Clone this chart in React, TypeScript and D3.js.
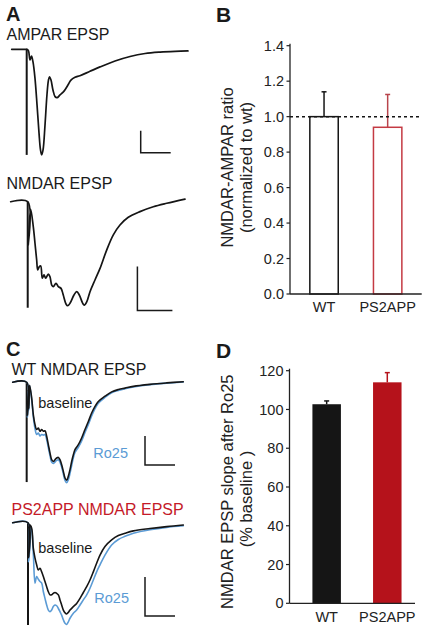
import React from 'react';
import * as d3 from 'd3';

const FONT = '"Liberation Sans", Arial, Helvetica, sans-serif';
const BLUE = '#5b9bd5';
const RED = '#b5121b';
const RED_TEXT = '#c41a28';
const RED_OUTLINE = '#c43a43';
const INK = '#151515';

// ---------- Panel A: AMPAR EPSP (ms, mV) ----------
const ampT = [0, 9.2, 10.2, 11.2, 12.2, 13.2, 14.2, 15.5, 16.9, 18.2, 19.2, 20.0, 20.9, 22.2, 23.5, 24.5, 25.2, 26.2, 27.5, 28.9, 30.2, 32.2, 34.9, 37.5, 39.5, 42.2, 45.5, 52.2, 58.9, 68.9, 78.9, 88.9, 98.9, 108.9, 117.5];
const ampV = [0, 0, 0, -0.15, -0.97, -0.61, -1.15, -2.6, -5.07, -7.6, -9.15, -9.6, -9.15, -6.9, -4.15, -2.8, -2.5, -2.8, -3.7, -4.3, -4.4, -4.15, -3.8, -3.25, -2.8, -2.55, -2.4, -2.0, -1.6, -1.06, -0.65, -0.38, -0.25, -0.18, -0.15];
const ampArtifact = { t: 10, v: -9.6 };

// ---------- Panel A: NMDAR EPSP ----------
const nmdaT = [0, 24.3, 25.1, 26.9, 28.6, 32.3, 34.7, 37.1, 38.6, 40.9, 42.9, 45.1, 47.6, 50.0, 53.7, 56.1, 58.6, 60.9, 64.7, 68.0, 71.9, 75.1, 79.0, 81.4, 84.7, 90.4, 94.3, 98.0, 102.9, 105.1, 108.6, 113.3, 120.4, 127.6, 137.1, 146.6, 156.1, 168.0, 184.7, 203.7, 222.9, 249.0];
const nmdaV = [0, 0, -1.97, -0.83, -0.35, -1.14, -1.89, -2.65, -3.1, -2.95, -2.92, -3.48, -3.33, -3.48, -3.29, -3.41, -3.79, -3.86, -3.71, -3.86, -3.94, -4.24, -4.65, -4.73, -4.62, -4.24, -4.09, -4.24, -4.62, -4.7, -4.55, -4.09, -3.56, -3.03, -2.2, -1.51, -1.06, -0.71, -0.45, -0.23, -0.07, 0.12];
const nmdaArtifact = { t: 24.3, v: -4.82 };

// ---------- Panel C: WT NMDAR EPSP ----------
const wtT = [0, 23.3, 24.5, 25.8, 27.0, 28.3, 31.6, 34.4, 37.2, 39.9, 42.7, 45.5, 48.3, 51.1, 53.8, 56.6, 59.4, 62.2, 64.9, 67.7, 70.5, 73.3, 76.1, 78.8, 81.6, 84.4, 87.2, 89.9, 92.7, 95.5, 98.3, 101.1, 103.8, 109.4, 114.9, 120.5, 126.1, 131.6, 137.2, 142.7, 153.8, 164.9, 176.1, 187.2, 201.1, 228.8, 256.7, 284.3];
const wtBaseV = [0, 0, -1.15, -0.25, -0.9, -0.1, -0.54, -1.12, -1.46, -1.63, -1.58, -1.69, -1.63, -1.69, -1.67, -1.86, -2.15, -2.44, -2.67, -2.73, -2.67, -2.61, -2.59, -2.67, -2.84, -3.07, -3.30, -3.38, -3.24, -3.01, -2.73, -2.50, -2.32, -2.15, -1.92, -1.63, -1.35, -1.06, -0.83, -0.66, -0.48, -0.33, -0.25, -0.20, -0.14, -0.07, -0.02, 0.02];
const wtRoV = [0, 0, -1.2, -0.3, -0.95, -0.12, -0.6, -1.2, -1.6, -1.8, -1.75, -1.85, -1.8, -1.82, -1.8, -1.97, -2.25, -2.53, -2.75, -2.8, -2.75, -2.69, -2.67, -2.75, -2.92, -3.16, -3.38, -3.46, -3.36, -3.14, -2.87, -2.60, -2.42, -2.24, -2.02, -1.73, -1.45, -1.16, -0.91, -0.72, -0.52, -0.36, -0.28, -0.22, -0.16, -0.08, -0.03, 0.01];
const wtArtifact = { t: 23.3, v: -3.44 };

// ---------- Panel C: PS2APP NMDAR EPSP ----------
const psT = [0, 25.5, 26.5, 27.7, 28.8, 31.6, 34.4, 37.2, 39.9, 42.7, 45.5, 48.3, 51.1, 53.8, 56.6, 59.4, 62.2, 64.9, 67.7, 70.5, 73.3, 76.1, 78.8, 81.6, 84.4, 87.2, 89.9, 92.7, 95.5, 101.1, 106.6, 112.2, 117.7, 123.3, 128.8, 134.4, 139.9, 145.5, 153.8, 164.9, 176.1, 187.2, 201.1, 228.8, 256.6, 284.4];
const psBaseV = [0, 0, -0.9, -0.3, -0.06, -0.14, -0.66, -0.91, -1.08, -1.21, -1.17, -1.26, -1.38, -1.51, -1.64, -1.77, -1.85, -1.85, -1.81, -1.79, -1.81, -1.85, -1.98, -2.11, -2.24, -2.31, -2.34, -2.30, -2.24, -2.15, -2.07, -1.94, -1.79, -1.64, -1.47, -1.26, -1.04, -0.83, -0.61, -0.44, -0.33, -0.27, -0.21, -0.15, -0.10, -0.06];
const psRoV = [0, 0, -1.0, -0.35, -0.08, -0.2, -0.8, -1.55, -1.38, -1.45, -1.51, -1.55, -1.77, -1.94, -2.11, -2.24, -2.28, -2.24, -2.15, -2.11, -2.13, -2.20, -2.28, -2.37, -2.49, -2.58, -2.61, -2.54, -2.45, -2.32, -2.24, -2.11, -1.98, -1.85, -1.68, -1.47, -1.26, -1.08, -0.83, -0.57, -0.43, -0.35, -0.27, -0.18, -0.12, -0.08];
const psArtifact = { t: 25.5, v: -2.62 };

// ---------- Panel B ----------
const groups = ['WT', 'PS2APP'];
const ratioMeans = [1.0, 0.94];
const ratioErrs = [0.14, 0.185];
const ratioTicks = [0, 0.2, 0.4, 0.6, 0.8, 1.0, 1.2, 1.4];

// ---------- Panel D ----------
const slopeMeans = [102.7, 114.0];
const slopeErrs = [1.7, 5.0];
const slopeTicks = [0, 20, 40, 60, 80, 100, 120];

type Scale = d3.ScaleLinear<number, number>;

function Trace({ t, v, xs, ys, color, width = 1.6 }: { t: number[]; v: number[]; xs: Scale; ys: Scale; color: string; width?: number }) {
  const pts = d3.zip(t, v) as [number, number][];
  const line = d3
    .line<[number, number]>()
    .x((d) => xs(d[0]))
    .y((d) => ys(d[1]))
    .curve(d3.curveCatmullRom.alpha(0.5));
  return <path d={line(pts) || ''} fill="none" stroke={color} strokeWidth={width} strokeLinejoin="round" strokeLinecap="round" />;
}

function Artifact({ a, xs, ys }: { a: { t: number; v: number }; xs: Scale; ys: Scale }) {
  return <line x1={xs(a.t)} x2={xs(a.t)} y1={ys(0)} y2={ys(a.v)} stroke={INK} strokeWidth={2} />;
}

function ScaleBar({ t, v, dt, dv, xs, ys }: { t: number; v: number; dt: number; dv: number; xs: Scale; ys: Scale }) {
  const d = `M${xs(t)},${ys(v + dv)}L${xs(t)},${ys(v)}L${xs(t + dt)},${ys(v)}`;
  return <path d={d} fill="none" stroke="#1a1a1a" strokeWidth={1.5} />;
}

function BarChart({
  ys, ticks, fmt, means, errs, x0, x1, align, y0, filled, titleLines, labelBaseline,
}: {
  ys: Scale; ticks: number[]; fmt: (n: number) => string; means: number[]; errs: number[]; x0: number; x1: number; align: number;
  y0: number; filled: boolean; titleLines: { text: string; x: number; cy: number }[]; labelBaseline: number;
}) {
  const xb = d3.scaleBand<string>().domain(groups).range([x0, x1]).paddingInner(0.53).paddingOuter(0.3).align(align);
  const colors = [INK, filled ? RED : RED_OUTLINE];
  const errColors = [INK, filled ? RED : '#b8444c'];
  const top = ys(ticks[ticks.length - 1]);
  return (
    <g fontFamily={FONT}>
      {titleLines.map((l, i) => (
        <text key={i} transform={`translate(${l.x},${l.cy}) rotate(-90)`} textAnchor="middle" fontSize={16.5} fill="#222">
          {l.text}
        </text>
      ))}
      {groups.map((g, i) => {
        const bx = xb(g)!;
        const bw = xb.bandwidth();
        const cx = bx + bw / 2;
        return (
          <g key={g}>
            <line x1={cx} x2={cx} y1={ys(means[i])} y2={ys(means[i] + errs[i])} stroke={errColors[i]} strokeWidth={1.5} />
            <line x1={cx - 2.5} x2={cx + 2.5} y1={ys(means[i] + errs[i])} y2={ys(means[i] + errs[i])} stroke={errColors[i]} strokeWidth={1.5} />
            {filled ? (
              <rect x={bx} y={ys(means[i])} width={bw} height={ys(0) - ys(means[i])} fill={colors[i]} />
            ) : (
              <rect x={bx + 0.75} y={ys(means[i])} width={bw - 1.5} height={ys(0) - ys(means[i])} fill="#fff" stroke={colors[i]} strokeWidth={1.5} />
            )}
            <text x={cx} y={labelBaseline} textAnchor="middle" fontSize={14.5} fill="#222">
              {g}
            </text>
          </g>
        );
      })}
      <line x1={x0} x2={x0} y1={y0} y2={top - 2} stroke="#222" strokeWidth={1.3} />
      <line x1={x0} x2={x1} y1={y0} y2={y0} stroke="#222" strokeWidth={1.3} />
      {ticks.map((tk) => (
        <g key={tk}>
          <line x1={x0 - 3.5} x2={x0} y1={ys(tk)} y2={ys(tk)} stroke="#222" strokeWidth={1.2} />
          <text x={x0 - 6} y={ys(tk)} dy="0.35em" textAnchor="end" fontSize={14.5} fill="#222">
            {fmt(tk)}
          </text>
        </g>
      ))}
    </g>
  );
}

export default function App() {
  // trace scales (ms -> px, mV -> px)
  const ampX = d3.scaleLinear().domain([0, 100]).range([11.7, 161.7]);
  const ampY = d3.scaleLinear().domain([0, -10]).range([49.3, 159.3]);
  const nmX = d3.scaleLinear().domain([0, 100]).range([10.7, 80.7]);
  const nmY = d3.scaleLinear().domain([0, -5]).range([201.7, 311.7]);
  const wtX = d3.scaleLinear().domain([0, 100]).range([12.7, 72.7]);
  const wtY = d3.scaleLinear().domain([0, -3]).range([382.3, 469.3]);
  const psX = d3.scaleLinear().domain([0, 100]).range([12.7, 72.7]);
  const psY = d3.scaleLinear().domain([0, -3]).range([522.7, 639.7]);

  const yB = d3.scaleLinear().domain([0, 1.4]).range([294, 45.7]);
  const yD = d3.scaleLinear().domain([0, 120]).range([603.3, 370.7]);
  const f1 = d3.format('.1f');
  const f0 = d3.format('d');

  return (
    <svg width={430} height={632} viewBox="0 0 430 632" style={{ position: 'absolute', left: 0, top: 0, background: '#fff' }}>
      <rect x={0} y={0} width={430} height={632} fill="#fff" />
      <g fontFamily={FONT} fill="#1a1a1a">
        {/* Panel letters */}
        <text x={6} y={20.5} fontSize={20} fontWeight="bold">A</text>
        <text x={216} y={22} fontSize={21} fontWeight="bold">B</text>
        <text x={6} y={356} fontSize={20} fontWeight="bold">C</text>
        <text x={216} y={357.5} fontSize={21} fontWeight="bold">D</text>

        <text x={6.5} y={39.5} fontSize={16}>AMPAR EPSP</text>
        <text x={6.5} y={189.3} fontSize={16}>NMDAR EPSP</text>
        <text x={11.5} y={375} fontSize={16}>WT NMDAR EPSP</text>
        <text x={11.5} y={515} fontSize={16} fill={RED_TEXT}>PS2APP NMDAR EPSP</text>

        <text x={38.3} y={408.3} fontSize={14.5}>baseline</text>
        <text x={93.3} y={458.3} fontSize={14.5} fill={BLUE}>Ro25</text>
        <text x={38.3} y={552.7} fontSize={14.5}>baseline</text>
        <text x={94.3} y={603.3} fontSize={14.5} fill={BLUE}>Ro25</text>
      </g>

      {/* A: AMPAR */}
      <Artifact a={ampArtifact} xs={ampX} ys={ampY} />
      <Trace t={ampT} v={ampV} xs={ampX} ys={ampY} color={INK} width={1.7} />
      <ScaleBar t={86} v={-9.4} dt={20} dv={2} xs={ampX} ys={ampY} />

      {/* A: NMDAR */}
      <Artifact a={nmdaArtifact} xs={nmX} ys={nmY} />
      <Trace t={nmdaT} v={nmdaV} xs={nmX} ys={nmY} color={INK} width={1.7} />
      <ScaleBar t={181} v={-4.95} dt={50} dv={2} xs={nmX} ys={nmY} />

      {/* C: WT */}
      <Artifact a={wtArtifact} xs={wtX} ys={wtY} />
      <Trace t={wtT} v={wtRoV} xs={wtX} ys={wtY} color={BLUE} width={1.6} />
      <Trace t={wtT} v={wtBaseV} xs={wtX} ys={wtY} color={INK} width={1.6} />
      <ScaleBar t={220.5} v={-2.85} dt={50} dv={1} xs={wtX} ys={wtY} />

      {/* C: PS2APP */}
      <Artifact a={psArtifact} xs={psX} ys={psY} />
      <Trace t={psT} v={psRoV} xs={psX} ys={psY} color={BLUE} width={1.6} />
      <Trace t={psT} v={psBaseV} xs={psX} ys={psY} color={INK} width={1.6} />
      <ScaleBar t={220.5} v={-2.39} dt={50} dv={1} xs={psX} ys={psY} />

      {/* B */}
      <BarChart
        ys={yB}
        ticks={ratioTicks}
        fmt={f1}
        means={ratioMeans}
        errs={ratioErrs}
        x0={290}
        x1={421.7}
        align={0.5}
        y0={294}
        filled={false}
        labelBaseline={311.5}
        titleLines={[
          { text: 'NMDAR-AMPAR ratio', x: 233, cy: 167.5 },
          { text: '(normalized to wt)', x: 251.5, cy: 167.5 },
        ]}
      />
      <line x1={290} x2={420} y1={yB(1.0)} y2={yB(1.0)} stroke={INK} strokeWidth={1.5} strokeDasharray="3,3" />

      {/* D */}
      <BarChart
        ys={yD}
        ticks={slopeTicks}
        fmt={f0}
        means={slopeMeans}
        errs={slopeErrs}
        x0={289.5}
        x1={415}
        align={0.63}
        y0={603.3}
        filled={true}
        labelBaseline={621.7}
        titleLines={[
          { text: 'NMDAR EPSP slope after Ro25', x: 233, cy: 491.7 },
          { text: '(% baseline )', x: 251.5, cy: 499 },
        ]}
      />
    </svg>
  );
}
